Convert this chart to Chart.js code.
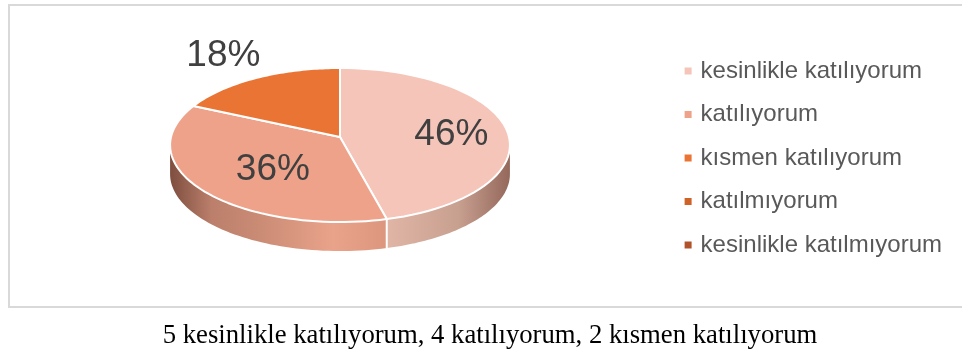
<!DOCTYPE html>
<html>
<head>
<meta charset="utf-8">
<script src="https://cdn.jsdelivr.net/npm/chart.js@4"></script>
<style>
    body { margin: 0; background: #fff; width: 962px; height: 352px; overflow: hidden; position: relative; }
    #frame { position: absolute; left: 8px; top: 4px; width: 960px; height: 300px; border: 2px solid #d9d9d9; box-sizing: content-box; }
    #chart { position: absolute; left: 0; top: 0; }
    #caption { position: absolute; left: 0; top: 319px; width: 980px; text-align: center; font: 26.7px "Liberation Serif", serif; color: #000; }
</style>
</head>
<body>
<div id="frame"></div>
<canvas id="chart" width="962" height="352"></canvas>
<div id="caption">5 kesinlikle katılıyorum, 4 katılıyorum, 2 kısmen katılıyorum</div>
<script>
const categories = ['kesinlikle katılıyorum', 'katılıyorum', 'kısmen katılıyorum', 'katılmıyorum', 'kesinlikle katılmıyorum'];
const percentages = [46, 36, 18, 0, 0];
const sliceColors = ['#f4c5b8', '#eea28a', '#ea7433', '#cf6229', '#b0532a'];

// how far along the radius each percent label sits (18% is outside the pie)
const labelRadius = [0.67, 0.52, 1.41];
const labelNudge = [[0, 4], [3, 7], [-3, 0]];

// the tilted pie: a circle seen in perspective, plus the height of its side wall
const tilt = { x: 340, y: 137, rx: 169, ry: 76.2, k: -0.104, depth: 29 };

// side wall shading, left to right across the whole pie
const wallStops = [
    [[0, '#7f5245'], [0.12, '#b07c6b'], [0.5, '#e6c0b2'], [0.64, '#e0b5a6'], [0.85, '#c8a090'], [1, '#95695c']],
    [[0, '#7f4f40'], [0.12, '#bb7f6b'], [0.3, '#cf8f78'], [0.48, '#eaa38b'], [0.64, '#dc967e'], [1, '#95695c']]
];

function project(angle, radius) {
    const u = Math.cos(angle) * radius;
    const v = Math.sin(angle) * radius;
    const w = 1 + tilt.k * v;
    return { x: tilt.x + tilt.rx * u / w, y: tilt.y + tilt.ry * v / w };
}

function traceRim(ctx, from, to, drop) {
    for (let i = 0; i <= 60; i++) {
        const p = project(from + (to - from) * i / 60, 1);
        if (i === 0 && drop === undefined) ctx.moveTo(p.x, p.y);
        else ctx.lineTo(p.x, p.y + (drop || 0));
    }
}

const tiltedPie = {
    id: 'tiltedPie',
    beforeDatasetDraw(chart) {
        const ctx = chart.ctx;
        const arcs = chart.getDatasetMeta(0).data;
        // the wall is only visible between the two widest points of the rim
        const wallFrom = Math.asin(-tilt.k);
        const wallTo = Math.PI - wallFrom;

        arcs.forEach((arc, i) => {
            if (arc.endAngle <= arc.startAngle) return;
            const from = Math.max(arc.startAngle, wallFrom);
            const to = Math.min(arc.endAngle, wallTo);
            if (to > from && wallStops[i]) {
                const fill = ctx.createLinearGradient(tilt.x - tilt.rx, 0, tilt.x + tilt.rx, 0);
                wallStops[i].forEach(s => fill.addColorStop(s[0], s[1]));
                ctx.beginPath();
                traceRim(ctx, from, to);
                traceRim(ctx, to, from, tilt.depth);
                ctx.closePath();
                ctx.fillStyle = fill;
                ctx.fill();
                // white seam down the wall where two slices meet
                const seam = project(from, 1);
                if (from > wallFrom) {
                    ctx.beginPath();
                    ctx.moveTo(seam.x, seam.y);
                    ctx.lineTo(seam.x, seam.y + tilt.depth);
                    ctx.strokeStyle = '#fff';
                    ctx.lineWidth = 2;
                    ctx.stroke();
                }
            }
        });

        arcs.forEach(arc => {
            if (arc.endAngle <= arc.startAngle) return;
            const apex = project(0, 0);
            ctx.beginPath();
            ctx.moveTo(apex.x, apex.y);
            traceRim(ctx, arc.startAngle, arc.endAngle, 0);
            ctx.closePath();
            ctx.fillStyle = arc.options.backgroundColor;
            ctx.fill();
            ctx.strokeStyle = arc.options.borderColor;
            ctx.lineWidth = arc.options.borderWidth;
            ctx.lineJoin = 'round';
            ctx.stroke();
        });
        return false;
    },
    afterDatasetsDraw(chart) {
        const ctx = chart.ctx;
        ctx.save();
        ctx.font = '37px "Liberation Sans"';
        ctx.fillStyle = '#404040';
        ctx.textAlign = 'center';
        ctx.textBaseline = 'middle';
        chart.getDatasetMeta(0).data.forEach((arc, i) => {
            if (!percentages[i]) return;
            const p = project((arc.startAngle + arc.endAngle) / 2, labelRadius[i]);
            ctx.fillText(percentages[i] + '%', p.x + labelNudge[i][0], p.y + labelNudge[i][1]);
        });
        ctx.restore();
    }
};

new Chart(document.getElementById('chart'), {
    type: 'pie',
    data: {
        labels: categories,
        datasets: [{
            data: percentages,
            backgroundColor: sliceColors,
            borderColor: '#ffffff',
            borderWidth: 2
        }]
    },
    options: {
        responsive: false,
        animation: false,
        layout: { padding: { bottom: 36, right: 10 } },
        plugins: {
            tooltip: { enabled: false },
            legend: {
                position: 'right',
                labels: {
                    // a 1px box with a thick stroke: keeps the 7px marker close to its text
                    boxWidth: 1,
                    boxHeight: 1,
                    padding: 19.5,
                    color: '#595959',
                    font: { family: '"Liberation Sans"', size: 24 },
                    generateLabels(chart) {
                        return Chart.overrides.pie.plugins.legend.labels.generateLabels(chart)
                            .map(item => ({ ...item, strokeStyle: item.fillStyle, lineWidth: 6, hidden: false }));
                    }
                }
            }
        }
    },
    plugins: [tiltedPie]
});
</script>
</body>
</html>
